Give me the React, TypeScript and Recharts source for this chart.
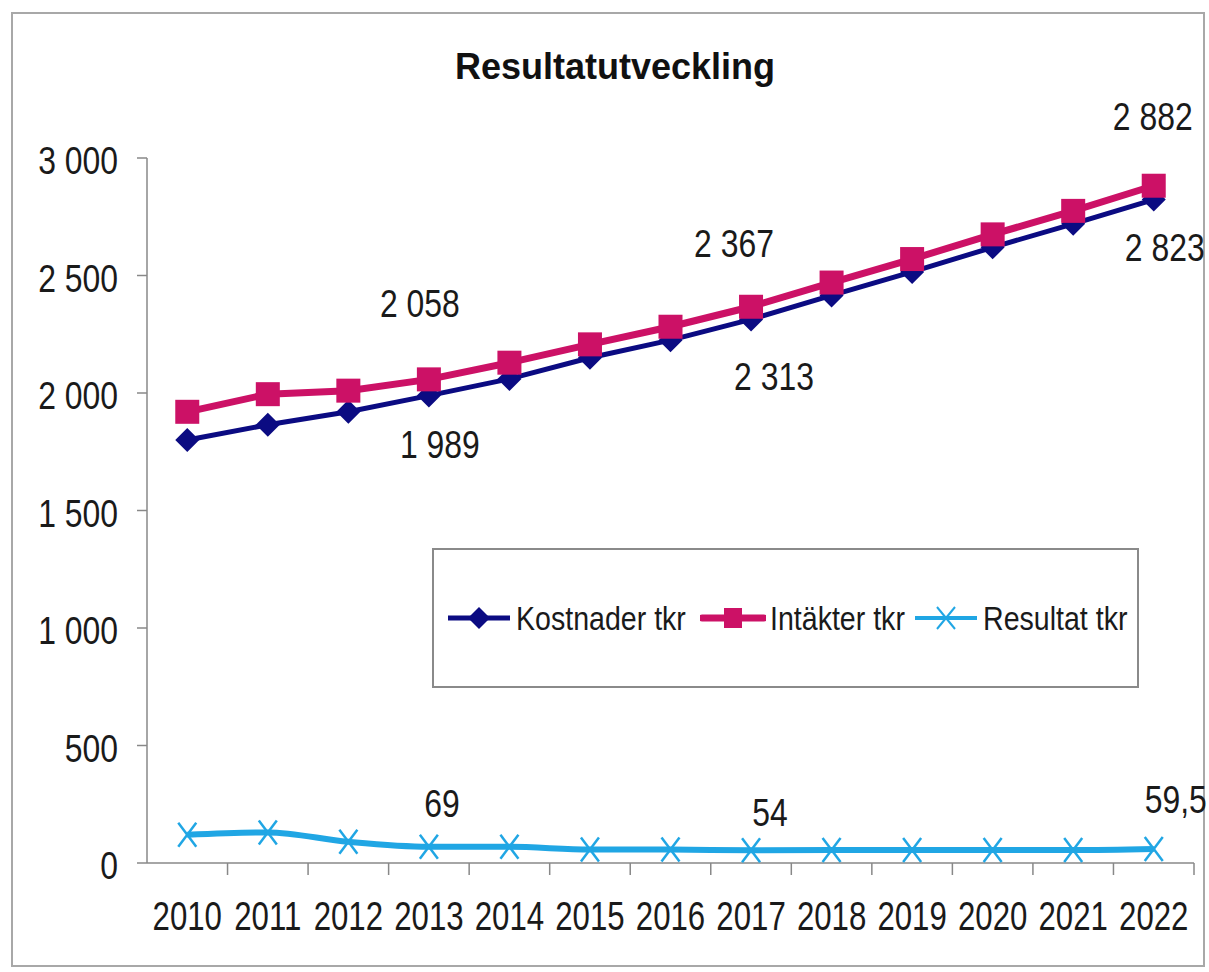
import React from 'react';
import { LineChart, Line, XAxis, YAxis, Legend } from 'recharts';

const years = ['2010', '2011', '2012', '2013', '2014', '2015', '2016', '2017', '2018', '2019', '2020', '2021', '2022'];
const kostnader = [1800, 1865, 1920, 1989, 2060, 2150, 2225, 2313, 2415, 2515, 2620, 2720, 2823];
const intakter = [1920, 1995, 2010, 2058, 2129, 2207, 2282, 2367, 2470, 2570, 2675, 2775, 2882];
const resultat = [120, 130, 90, 69, 69, 57, 57, 54, 55, 55, 55, 55, 59.5];
const yTicks = [0, 500, 1000, 1500, 2000, 2500, 3000];
const labeledIndices = [3, 7, 12];

const data = years.map((y, i) => ({
  year: y,
  kostnader: kostnader[i],
  intakter: intakter[i],
  resultat: resultat[i],
}));

const FONT = "'Liberation Sans', Arial, Helvetica, sans-serif";
const NAVY = '#0b0b82';
const PINK = '#cc1166';
const CYAN = '#20a6e4';

function fmt(v: number): string {
  const neg = v < 0;
  const abs = Math.abs(v);
  const intPart = Math.floor(abs);
  const dec = Math.round((abs - intPart) * 10);
  const s = String(intPart).replace(/\B(?=(\d{3})+(?!\d))/g, ' ');
  return (neg ? '-' : '') + s + (dec ? ',' + dec : '');
}

// label offsets relative to point: [dx, dy(baseline)]
const labelOffsets: Record<string, Record<number, [number, number]>> = {
  kostnader: { 3: [11, 62], 7: [23, 71], 12: [11, 61] },
  intakter: { 3: [-9, -62], 7: [-17, -50], 12: [-1, -56] },
  resultat: { 3: [13, -30], 7: [19, -24], 12: [22, -36] },
};

function DataLabel({ x, y, value, series, index }: any) {
  if (!labeledIndices.includes(index)) return null;
  const off = labelOffsets[series][index];
  return (
    <g transform={`translate(${x + off[0]},${y + off[1]})`}>
      <text textAnchor="middle" transform="scale(0.84,1)" fontSize={38} fontFamily={FONT} fill="#1a1a1a">
        {fmt(value)}
      </text>
    </g>
  );
}

function DiamondDot(props: any) {
  const { cx, cy, index, value } = props;
  if (cx == null || cy == null) return null;
  const h = 12;
  return (
    <g key={`kd${index}`}>
      <polygon points={`${cx},${cy - h} ${cx + h},${cy} ${cx},${cy + h} ${cx - h},${cy}`} fill={NAVY} />
      <DataLabel x={cx} y={cy} value={value} series="kostnader" index={index} />
    </g>
  );
}

function SquareDot(props: any) {
  const { cx, cy, index, value } = props;
  if (cx == null || cy == null) return null;
  const h = 12;
  return (
    <g key={`id${index}`}>
      <rect x={cx - h} y={cy - h} width={2 * h} height={2 * h} fill={PINK} />
      <DataLabel x={cx} y={cy} value={value} series="intakter" index={index} />
    </g>
  );
}

function XDot(props: any) {
  const { cx, cy, index, value } = props;
  if (cx == null || cy == null) return null;
  const w = 9;
  const h = 12;
  return (
    <g key={`rd${index}`}>
      <line x1={cx - w} y1={cy - h} x2={cx + w} y2={cy + h} stroke={CYAN} strokeWidth={2.5} />
      <line x1={cx - w} y1={cy + h} x2={cx + w} y2={cy - h} stroke={CYAN} strokeWidth={2.5} />
      <DataLabel x={cx} y={cy} value={value} series="resultat" index={index} />
    </g>
  );
}

function XTick(props: any) {
  const { x, y, payload } = props;
  const off = payload && payload.offset ? payload.offset : 40.27;
  return (
    <g>
      <line x1={x + off} y1={y} x2={x + off} y2={y + 12} stroke="#888" strokeWidth={1.5} />
      <g transform={`translate(${x},${y + 67})`}>
        <text textAnchor="middle" transform="scale(0.78,1)" fontSize={40} fontFamily={FONT} fill="#1a1a1a">
          {payload.value}
        </text>
      </g>
    </g>
  );
}

function YTick(props: any) {
  const { x, y, payload } = props;
  return (
    <g transform={`translate(${x},${y + 16})`}>
      <text textAnchor="end" transform="scale(0.84,1)" fontSize={38} fontFamily={FONT} fill="#1a1a1a">
        {fmt(payload.value)}
      </text>
    </g>
  );
}

function LegendIcon({ kind }: { kind: string }) {
  if (kind === 'kostnader') {
    return (
      <svg width={66} height={30}>
        <line x1={2} y1={15} x2={64} y2={15} stroke={NAVY} strokeWidth={5} />
        <polygon points="33,4 44,15 33,26 22,15" fill={NAVY} />
      </svg>
    );
  }
  if (kind === 'intakter') {
    return (
      <svg width={66} height={30}>
        <line x1={2} y1={15} x2={64} y2={15} stroke={PINK} strokeWidth={7} strokeLinecap="round" />
        <rect x={24} y={5} width={18} height={20} fill={PINK} />
      </svg>
    );
  }
  return (
    <svg width={66} height={30}>
      <line x1={2} y1={15} x2={64} y2={15} stroke={CYAN} strokeWidth={4} />
      <line x1={24} y1={4} x2={42} y2={26} stroke={CYAN} strokeWidth={2} />
      <line x1={24} y1={26} x2={42} y2={4} stroke={CYAN} strokeWidth={2} />
    </svg>
  );
}

const legendItems = [
  { key: 'kostnader', label: 'Kostnader tkr' },
  { key: 'intakter', label: 'Intäkter tkr' },
  { key: 'resultat', label: 'Resultat tkr' },
];

function LegendContent() {
  return (
    <div
      style={{
        width: 707,
        height: 140,
        boxSizing: 'border-box',
        border: '2px solid #8a8a8a',
        background: '#fff',
        display: 'flex',
        alignItems: 'center',
        paddingLeft: 12,
        fontFamily: FONT,
      }}
    >
      {legendItems.map((it) => (
        <div key={it.key} style={{ display: 'flex', alignItems: 'center', marginRight: 12 }}>
          <LegendIcon kind={it.key} />
          <span
            style={{
              fontSize: 34,
              color: '#1a1a1a',
              display: 'inline-block',
              transform: 'scaleX(0.84)',
              transformOrigin: 'left center',
              marginLeft: 4,
              marginRight: -30,
              whiteSpace: 'nowrap',
            }}
          >
            {it.label}
          </span>
        </div>
      ))}
    </div>
  );
}

export default function App() {
  return (
    <div style={{ position: 'absolute', left: 0, top: 0, width: 1209, height: 972, background: '#fff', overflow: 'hidden' }}>
      <div
        style={{
          position: 'absolute',
          left: 11,
          top: 12,
          width: 1194,
          height: 955,
          boxSizing: 'border-box',
          border: '2px solid #a8a8a8',
        }}
      />
      <div
        style={{
          position: 'absolute',
          left: 0,
          top: 46,
          width: 1230,
          textAlign: 'center',
          fontFamily: FONT,
          fontWeight: 'bold',
          fontSize: 36,
          color: '#111',
        }}
      >
        Resultatutveckling
      </div>
      <div style={{ position: 'absolute', left: 0, top: 0 }}>
        <LineChart width={1209} height={972} data={data} margin={{ top: 158, right: 15, bottom: 49, left: 0 }}>
          <XAxis
            dataKey="year"
            scale="band"
            height={60}
            tickSize={0}
            tickMargin={0}
            tickLine={false}
            axisLine={{ stroke: '#888', strokeWidth: 1.5 }}
            tick={<XTick />}
            interval={0}
          />
          <YAxis
            width={147}
            domain={[0, 3000]}
            ticks={yTicks}
            tickSize={10}
            tickMargin={19}
            axisLine={{ stroke: '#888', strokeWidth: 1.5 }}
            tickLine={{ stroke: '#888', strokeWidth: 1.5 }}
            tick={<YTick />}
            interval={0}
          />
          <Legend
            layout="vertical"
            align="center"
            verticalAlign="middle"
            content={<LegendContent />}
            wrapperStyle={{ position: 'absolute', left: 432, top: 548, width: 707, height: 140 }}
          />
          <Line
            dataKey="kostnader"
            name="Kostnader tkr"
            stroke={NAVY}
            strokeWidth={5}
            dot={<DiamondDot />}
            activeDot={false}
            isAnimationActive={false}
          />
          <Line
            dataKey="intakter"
            name="Intäkter tkr"
            stroke={PINK}
            strokeWidth={7}
            dot={<SquareDot />}
            activeDot={false}
            isAnimationActive={false}
          />
          <Line
            type="monotone"
            dataKey="resultat"
            name="Resultat tkr"
            stroke={CYAN}
            strokeWidth={6}
            dot={<XDot />}
            activeDot={false}
            isAnimationActive={false}
          />
        </LineChart>
      </div>
    </div>
  );
}
